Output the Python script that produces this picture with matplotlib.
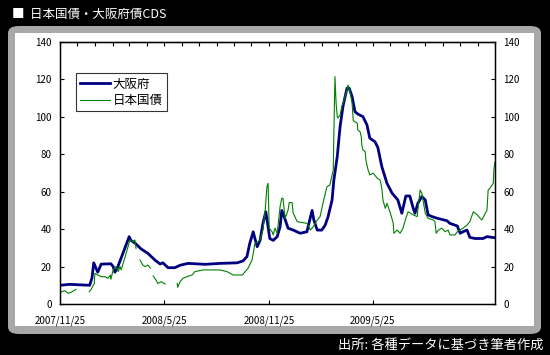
import datetime as dt
import numpy as np
import matplotlib.pyplot as plt
import matplotlib.dates as mdates
from matplotlib.patches import FancyBboxPatch

plt.rcParams['font.family'] = ['Noto Sans CJK JP', 'DejaVu Sans']

start = dt.date(2007, 11, 25)

# 大阪府 (days since 2007/11/25, CDS)
osaka_day = [0, 17, 52, 56, 59, 66, 72, 89, 93, 96, 100, 110, 121, 124, 131, 142, 154,
             166, 175, 180, 189, 201, 210, 224, 254, 280, 310, 320, 327, 332, 338, 341,
             345, 350, 355, 360, 364, 367, 373, 380, 385, 388, 394, 399, 408, 420, 432,
             434, 441, 444, 450, 458, 464, 469, 476, 479, 485, 490, 495, 502, 506, 511,
             516, 521, 530, 537, 542, 551, 556, 563, 572, 581, 591, 598, 605, 612, 618,
             621, 626, 633, 639, 644, 651, 660, 677, 682, 695, 700, 705, 712, 717, 726,
             740, 747, 758, 761]
osaka_val = [10, 10.5, 10, 14, 22, 17, 21.3, 21.5, 20, 17, 19, 27, 36, 34, 32.6, 29.4, 27,
             23.5, 21.4, 22, 19.4, 19.4, 20.7, 21.7, 21.2, 21.7, 22, 23, 25.3, 32.4, 38.6, 35,
             30.6, 34, 43, 49.3, 41.3, 35, 34, 36, 41.3, 50, 45, 40.5, 39.5, 37.8, 38.6,
             41.3, 50, 45, 39.5, 39.5, 42.2, 46.7, 55.6, 66, 78.7, 94.8, 105.5, 115.3, 115.3, 110.8,
             102.8, 101.5, 100.1, 95.7, 88.6, 86.7, 83.7, 73.4, 64.5, 59.2, 55.6, 48.5, 57.7, 57.7, 51.1,
             48.5, 53.8, 57.4, 55.6, 47.6, 46.7, 45.8, 44.5, 43.1, 41.7, 37.8, 38.6, 39.5, 35.6, 35,
             35, 36, 35.5, 35.5]

# 日本国債 (NaN = no quote)
japan_day = [0, 2, 9, 14, 21, 26, 28, 40, 51, 54, 60, 61, 66, 72, 79, 84, 88, 89, 93, 98,
             102, 105, 107, 114, 119, 122, 128, 131, 133, 137, 140, 145, 149, 154, 158, 161,
             163, 166, 168, 171, 177, 184, 195, 205, 206, 210, 215, 222, 231, 236, 250, 280,
             292, 303, 319, 324, 329, 336, 341, 347, 350, 355, 359, 362, 364, 365, 366, 371,
             373, 376, 380, 385, 388, 390, 394, 399, 401, 406, 408, 415, 432, 438, 443, 450,
             455, 460, 467, 472, 478, 479, 481, 483, 485, 486, 490, 493, 497, 502, 504, 507,
             511, 513, 520, 521, 525, 527, 528, 530, 534, 535, 539, 542, 548, 555, 560, 563,
             565, 569, 572, 574, 578, 583, 584, 590, 595, 600, 605, 609, 618, 625, 626, 630,
             633, 635, 639, 644, 653, 656, 658, 662, 668, 674, 679, 682, 691, 695, 700, 705,
             712, 717, 723, 730, 735, 738, 744, 747, 749, 752, 758, 759, 761]
japan_val = [4.3, 6.6, 7.1, 5.7, 6.5, 7.5, 7.8, np.nan, 6.6, 7.5, 11, 16.4, 15.5, 14.6, 14.6, 13.7,
             15.5, 13.2, 18.2, 20, 17.3, 20, 18.2, 25.3, 30.6, 34.2, 33.3, 34.2, 29.8, np.nan,
             23.5, 20.8, 20, 20.8, 19.1, np.nan, 15, 13.7, 12.8, 11, 11.9, 10.7, np.nan, 11, 8.9,
             11.9, 13.7, 14.6, 15.5, 17.3, 18.2, 18.2, 17.3, 15.5, 15.5, 17.3, 19.1, 23.5, 32.4,
             33.3, 34.2, 39.5, 50.2, 62.7, 64.5, 52, 40.5, 38.6, 36.9, 40.5, 37.8, 52, 56.5, 56.5,
             45.8, 50.2, 54.2, 54.2, 48.5, 44, 43.1, 39.5, 41.3, 44.9, 46.7, 53.8, 62.7, 63.5,
             71.6, 89.4, 121.5, 107.3, 100.1, 99.4, 101, 105.5, 109, 114.4, 117, 114, 107.3, 98,
             96.6, 93, 92, 89.4, 85, 82.3, 81.4, 77, 71.6, 69, 69.9, 67.2, 66.3, 61.8, 55.6, 51.1,
             53.8, 52, 48.5, 43.1, 37.8, 39.5, 37.8, 40.5, 45.8, 49.3, 47.6, 46.7, 50.2, 60.9,
             59.2, 55.6, 48.5, 45.8, 44.9, 44, 37.8, 39.5, 40.5, 38.6, 39.5, 36.9, 36.9, 38.6,
             39.5, 40.5, 42.2, 44, 49.3, 47.6, 45.8, 44.9, 48.5, 50.2, 60.9, 61.8, 64.5, 71.6, 76]

tick_labels = ['2007/11/25', '2008/5/25', '2008/11/25', '2009/5/25']

osaka_dates = [start + dt.timedelta(days=d) for d in osaka_day]
japan_dates = [start + dt.timedelta(days=d) for d in japan_day]
tick_dates = [dt.datetime.strptime(s, '%Y/%m/%d').date() for s in tick_labels]

fig = plt.figure(figsize=(5.5, 3.55), dpi=100, facecolor='black')

# gray frame and white panel (behind the axes)
fig.patches.append(FancyBboxPatch((8 / 550, 21 / 355), 533 / 550, 308 / 355,
                                  boxstyle='round,pad=0,rounding_size=0.02',
                                  transform=fig.transFigure, facecolor='#a8a8a8',
                                  edgecolor='none', zorder=-3))
fig.patches.append(FancyBboxPatch((15 / 550, 29 / 355), 519 / 550, 293 / 355,
                                  boxstyle='square,pad=0', transform=fig.transFigure,
                                  facecolor='white', edgecolor='none', zorder=-2))

fig.text(12 / 550, 1 - 14 / 355, '■  日本国債・大阪府債CDS', color='white', fontsize=9,
         va='center', ha='left')
fig.text(543 / 550, 1 - 345 / 355, '出所: 各種データに基づき筆者作成', color='white',
         fontsize=9.5, va='center', ha='right')

ax = fig.add_axes([60 / 550, 1 - 304 / 355, 435 / 550, 262 / 355])
ax.set_facecolor('white')
ax.plot(osaka_dates, osaka_val, color='#000080', lw=2.0, label='大阪府')
ax.plot(japan_dates, japan_val, color='#008000', lw=0.8, label='日本国債')

ax.set_xlim(start, start + dt.timedelta(days=761))
ax.set_ylim(0, 140)
ax.set_yticks(range(0, 141, 20))
ax.set_xticks(tick_dates)
ax.set_xticklabels(tick_labels)
ax.tick_params(axis='both', direction='in', length=3, width=0.8, labelsize=7, pad=6,
               colors='black')
ax.tick_params(axis='x', pad=8)

for s in ax.spines.values():
    s.set_linewidth(1.0)

ax2 = ax.twinx()
ax2.set_ylim(0, 140)
ax2.set_yticks(range(0, 141, 20))
ax2.tick_params(axis='y', direction='in', length=3, width=0.8, labelsize=7, pad=6)

# monthly ticks along the top edge
top = ax.secondary_xaxis('top')
top.xaxis.set_major_locator(mdates.MonthLocator(bymonthday=25))
top.tick_params(direction='in', length=3, width=0.8, labeltop=False)

leg = ax.legend(loc='upper left', bbox_to_anchor=(0.037, 0.88), fontsize=9,
                frameon=True, fancybox=False, edgecolor='black', handlelength=2.4,
                borderpad=0.35, labelspacing=0.25, handletextpad=0.2, borderaxespad=0)
leg.get_frame().set_linewidth(0.8)

fig.savefig('out.png', dpi=100, facecolor='black')
